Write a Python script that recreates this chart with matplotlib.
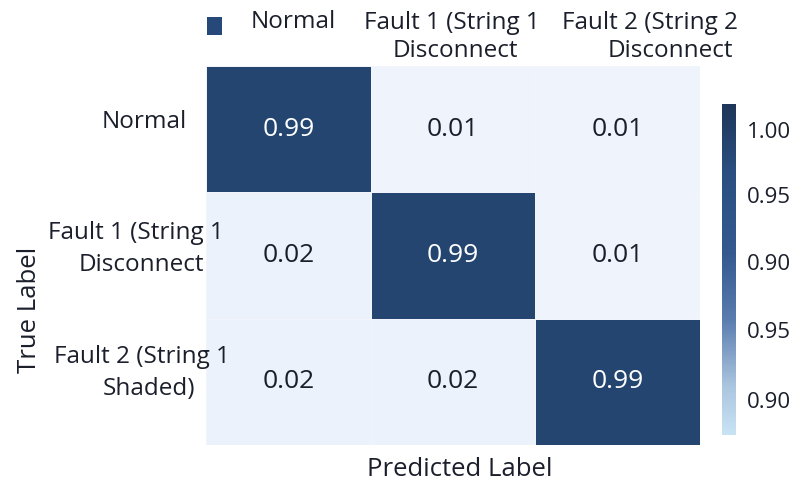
import numpy as np
import matplotlib
matplotlib.use("Agg")
import matplotlib.pyplot as plt
from matplotlib.colors import LinearSegmentedColormap, Normalize
from matplotlib.cm import ScalarMappable
from matplotlib.patches import Rectangle

plt.rcParams['font.family'] = ['Open Sans', 'DejaVu Sans']

# Confusion matrix values (rows: true, cols: predicted)
matrix = np.array([
    [0.99, 0.01, 0.01],
    [0.02, 0.99, 0.01],
    [0.02, 0.02, 0.99],
])
col_labels = ["Normal", "Fault 1 (String 1\nDisconnect", "Fault 2 (String 2\nDisconnect"]
row_labels = ["Normal", "Fault 1 (String 1\nDisconnect", "Fault 2 (String 1\nShaded)"]
cbar_labels = ["1.00", "0.95", "0.90", "0.95", "0.90"]
x_title = "Predicted Label"
y_title = "True Label"

W, H = 796, 482
fig = plt.figure(figsize=(W / 100, H / 100), dpi=100)
fig.patch.set_facecolor("white")

def fx(px):
    return px / W

def fy(py):
    return 1 - py / H

ax = fig.add_axes([fx(206), fy(445), fx(700) - fx(206), fy(66) - fy(445)])

cell_cmap = LinearSegmentedColormap.from_list(
    "cells", [(0.0, "#eff4fd"), (0.05, "#e7eef9"), (1.0, "#21446f")])
norm = Normalize(vmin=0.0, vmax=1.0)
nr, nc = matrix.shape
ax.pcolormesh(np.arange(nc + 1), np.arange(nr + 1), matrix, cmap=cell_cmap, norm=norm,
              edgecolors="#f1f5fb", linewidth=0.5)
ax.set_xlim(0, nc)
ax.set_ylim(nr, 0)
for s in ax.spines.values():
    s.set_visible(False)
ax.set_xticks([])
ax.set_yticks([])

for i in range(nr):
    for j in range(nc):
        v = matrix[i, j]
        ax.text(j + 0.5, i + 0.5, f"{v:.2f}", ha="center", va="center",
                fontsize=19, color="white" if v > 0.5 else "#1a1f2b")

txt_color = "#1a1f2b"
lab_size = 17.5

# Column labels along the top, each line placed on its own
col_line_pos = [[(293, 22)], [(452, 23), (455, 51)], [(650, 23), (670, 51)]]
for label, poss in zip(col_labels, col_line_pos):
    for line, (px, py) in zip(label.split("\n"), poss):
        fig.text(fx(px), fy(py), line, ha="center", va="center", fontsize=lab_size, color=txt_color)

# Row labels on the left
row_line_pos = [[(187, 122)], [(224, 233), (204, 265)], [(230, 357), (195, 389)]]
for label, poss in zip(row_labels, row_line_pos):
    for line, (px, py) in zip(label.split("\n"), poss):
        fig.text(fx(px), fy(py), line, ha="right", va="center", fontsize=lab_size, color=txt_color)

fig.text(fx(460), fy(470), x_title, ha="center", va="center", fontsize=18.5, color=txt_color)
fig.text(fx(30), fy(310), y_title, ha="center", va="center", rotation=90, fontsize=18.5,
         color=txt_color)

# Small legend swatch
fig.patches.append(Rectangle((fx(207), fy(35)), fx(15), fy(17) - fy(35), transform=fig.transFigure,
                             facecolor="#26497a", edgecolor="none"))

# Colour bar
cax = fig.add_axes([fx(722), fy(435), fx(14), fy(104) - fy(435)])
bar_cmap = LinearSegmentedColormap.from_list(
    "bar", [(0.0, "#c8e3f3"), (0.15, "#a9c4de"), (0.35, "#5a7cae"),
            (0.55, "#33598f"), (0.8, "#2a4e7f"), (1.0, "#1e3658")])
sm = ScalarMappable(norm=Normalize(0, 1), cmap=bar_cmap)
cb = fig.colorbar(sm, cax=cax)
cb.outline.set_visible(False)
tick_pos = [0.921, 0.725, 0.523, 0.318, 0.107]
cb.set_ticks(tick_pos, labels=cbar_labels)
cax.tick_params(length=0, pad=8, labelsize=16, labelcolor=txt_color)

fig.savefig("out.png", dpi=100, facecolor="white")
